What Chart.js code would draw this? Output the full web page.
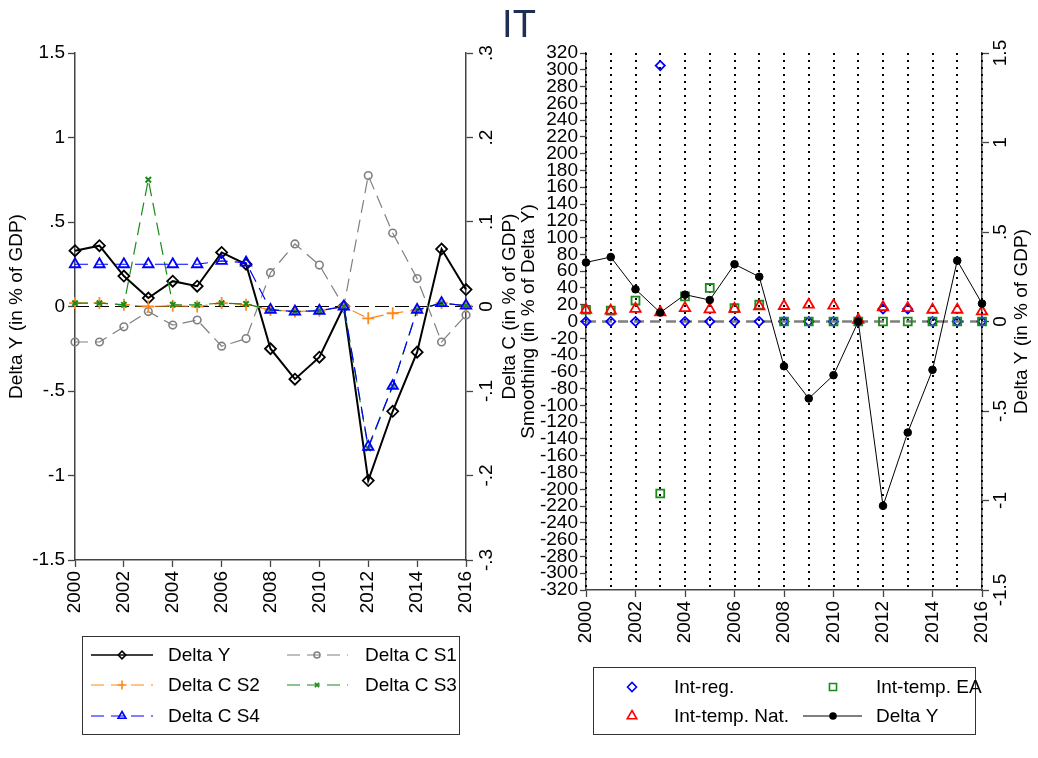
<!DOCTYPE html>
<html>
<head>
<meta charset="utf-8">
<script src="https://cdn.jsdelivr.net/npm/chart.js@4.4.0/dist/chart.umd.min.js"></script>
<style>
  body { margin: 0; background: #fff; }
  #wrap { position: relative; width: 1038px; height: 758px; }
  #title { position: absolute; left: 0; top: 5px; width: 1038px; text-align: center;
           font: 38px/38px "Liberation Sans", Arial, sans-serif; color: #1e2f52; }
  canvas { position: absolute; top: 0; }
  #left { left: 0; }
  #right { left: 519px; }
</style>
</head>
<body>
<div id="wrap">
  <canvas id="left" width="519" height="758"></canvas>
  <canvas id="right" width="519" height="758"></canvas>
  <div id="title">IT</div>
</div>
<script>
const FONT = '"Liberation Sans", Arial, sans-serif';

const years = [2000, 2001, 2002, 2003, 2004, 2005, 2006, 2007, 2008,
               2009, 2010, 2011, 2012, 2013, 2014, 2015, 2016];

// output change, % of GDP
const deltaY = [0.33, 0.36, 0.18, 0.05, 0.15, 0.12, 0.32, 0.25, -0.25,
                -0.43, -0.30, 0.0, -1.03, -0.62, -0.27, 0.34, 0.10];

// consumption change by scenario, % of GDP (right axis of left panel)
const deltaCS1 = [-0.042, -0.042, -0.024, -0.006, -0.022, -0.016, -0.047, -0.038, 0.040,
                  0.074, 0.049, 0.0, 0.155, 0.087, 0.033, -0.042, -0.010];
const deltaCS2 = [0.004, 0.004, 0.002, 0.0, 0.001, 0.0, 0.004, 0.002, -0.004,
                  -0.006, -0.005, 0.0, -0.014, -0.008, -0.004, 0.004, 0.001];
const deltaCS3 = [0.004, 0.004, 0.002, 0.150, 0.002, 0.002, 0.004, 0.003, -0.004,
                  -0.006, -0.005, 0.0, -0.168, -0.094, -0.004, 0.004, 0.001];
const deltaCS4 = [0.050, 0.050, 0.050, 0.050, 0.050, 0.050, 0.054, 0.052, -0.004,
                  -0.006, -0.005, 0.0, -0.166, -0.094, -0.004, 0.004, 0.001];

// smoothing channels, % of Delta Y
const intReg = [0, 0, 0, 305, 0, 0, 0, 0, 0,
                0, 0, 0, 15, 15, 0, 0, 0];
const intTempEA = [14, 13, 25, -205, 30, 40, 16, 20, 0,
                   0, 0, 0, 0, 0, 0, 0, 0];
const intTempNat = [14, 13, 15, 11, 16, 14.5, 15, 18, 18.5,
                    20, 19, 2, 17, 16, 14, 14, 12];

// tick values
const xTicks = [2000, 2002, 2004, 2006, 2008, 2010, 2012, 2014, 2016];
const gdpTicks = [-1.5, -1, -0.5, 0, 0.5, 1, 1.5];
const deltaCTicks = [-0.3, -0.2, -0.1, 0, 0.1, 0.2, 0.3];
const smoothTicks = [-320, -300, -280, -260, -240, -220, -200, -180, -160, -140, -120,
                     -100, -80, -60, -40, -20, 0, 20, 40, 60, 80, 100, 120, 140, 160,
                     180, 200, 220, 240, 260, 280, 300, 320];

function stata(v) {
  const s = String(Math.round(v * 1000) / 1000);
  return s.replace(/^0\./, '.').replace(/^-0\./, '-.');
}

function pts(ys) {
  return years.map((x, i) => ({ x: x, y: ys[i] }));
}

function setTicks(arr) {
  return function (scale) { scale.ticks = arr.map(v => ({ value: v })); };
}

function xScale(height) {
  return {
    type: 'linear', position: 'bottom', min: 2000, max: 2016,
    afterBuildTicks: setTicks(xTicks),
    afterFit: s => { s.height = height; },
    ticks: { autoSkip: false, minRotation: 90, maxRotation: 90, padding: 4, color: '#000',
             font: { size: 19, family: FONT }, callback: v => String(v) },
    grid: { drawOnChartArea: false, tickLength: 7, tickColor: '#444', tickWidth: 1.3 },
    border: { color: '#444', width: 1.5 }
  };
}

function hiddenRight(min, max, ticks, width) {
  return {
    type: 'linear', position: 'right', min: min, max: max,
    afterBuildTicks: setTicks(ticks),
    afterFit: s => { s.width = width; },
    ticks: { display: false },
    grid: { drawOnChartArea: false, tickLength: 7, tickColor: '#444', tickWidth: 1.3 },
    border: { color: '#444', width: 1.5 }
  };
}

// rotated labels + title for the right-hand axis
function rightAxis(axisId, labelOff, title, titleOff) {
  return {
    id: 'rightAxis',
    afterDraw(chart) {
      const s = chart.scales[axisId];
      const ctx = chart.ctx;
      ctx.save();
      ctx.fillStyle = '#000';
      ctx.font = '19px ' + FONT;
      ctx.textAlign = 'center';
      ctx.textBaseline = 'middle';
      s.ticks.forEach(t => {
        ctx.save();
        ctx.translate(s.left + labelOff, s.getPixelForValue(t.value));
        ctx.rotate(-Math.PI / 2);
        ctx.fillText(stata(t.value), 0, 0);
        ctx.restore();
      });
      const a = chart.chartArea;
      ctx.translate(s.left + titleOff, (a.top + a.bottom) / 2);
      ctx.rotate(-Math.PI / 2);
      ctx.fillText(title, 0, 0);
      ctx.restore();
    }
  };
}

// boxed legend, entries: [datasetIndex, row y, marker x, label x, line x1, line x2, marker radius]
function boxLegend(box, entries) {
  return {
    id: 'boxLegend',
    afterDraw(chart) {
      const ctx = chart.ctx;
      ctx.save();
      ctx.strokeStyle = '#333';
      ctx.lineWidth = 1;
      ctx.strokeRect(box[0], box[1], box[2], box[3]);
      entries.forEach(e => {
        const ds = chart.data.datasets[e[0]];
        if (e[4] !== null) {
          ctx.beginPath();
          ctx.setLineDash(ds.borderDash || []);
          ctx.strokeStyle = ds.borderColor;
          ctx.lineWidth = ds.legendLine || ds.borderWidth;
          ctx.moveTo(e[4], e[1]);
          ctx.lineTo(e[5], e[1]);
          ctx.stroke();
        }
        ctx.setLineDash([]);
        ctx.strokeStyle = ds.pointBorderColor;
        ctx.fillStyle = ds.pointBackgroundColor;
        ctx.lineWidth = 1.6;
        Chart.helpers.drawPoint(ctx, { pointStyle: ds.pointStyle, rotation: 0, radius: e[6], borderWidth: 1.6 }, e[2], e[1]);
        ctx.fillStyle = '#000';
        ctx.font = '19px ' + FONT;
        ctx.textAlign = 'left';
        ctx.textBaseline = 'middle';
        ctx.fillText(ds.label, e[3], e[1] + 1);
      });
      ctx.restore();
    }
  };
}

const NONE = 'rgba(0,0,0,0)';
const BLUE = '#0000ff', GREEN = '#1a8a1a', ORANGE = '#ff8a1a', GRAY = '#808080', RED = '#ff0000';

// ---------------- left panel ----------------
const zeroLineLeft = {
  id: 'zeroLeft',
  beforeDatasetsDraw(chart) {
    const ctx = chart.ctx, a = chart.chartArea;
    const y = chart.scales.y.getPixelForValue(0);
    ctx.save();
    ctx.strokeStyle = '#000';
    ctx.lineWidth = 1.2;
    ctx.setLineDash([14, 6]);
    ctx.beginPath();
    ctx.moveTo(a.left, y);
    ctx.lineTo(a.right, y);
    ctx.stroke();
    ctx.restore();
  }
};

new Chart(document.getElementById('left'), {
  type: 'line',
  data: {
    datasets: [
      { label: 'Delta Y', data: pts(deltaY), yAxisID: 'y', order: 5,
        borderColor: '#000', borderWidth: 2, pointStyle: 'rectRot', pointRadius: 5.5,
        pointBorderWidth: 1.8, pointBorderColor: '#000', pointBackgroundColor: NONE, legendLine: 1.5 },
      { label: 'Delta C S1', data: pts(deltaCS1), yAxisID: 'y2', order: 4,
        borderColor: GRAY, borderWidth: 1.2, borderDash: [13, 7], pointStyle: 'circle', pointRadius: 3.8,
        pointBorderWidth: 1.6, pointBorderColor: GRAY, pointBackgroundColor: NONE },
      { label: 'Delta C S2', data: pts(deltaCS2), yAxisID: 'y2', order: 3,
        borderColor: ORANGE, borderWidth: 1.2, borderDash: [13, 7], pointStyle: 'cross', pointRadius: 6,
        pointBorderWidth: 1.8, pointBorderColor: ORANGE, pointBackgroundColor: NONE },
      { label: 'Delta C S3', data: pts(deltaCS3), yAxisID: 'y2', order: 2,
        borderColor: GREEN, borderWidth: 1.2, borderDash: [13, 7], pointStyle: 'crossRot', pointRadius: 3.8,
        pointBorderWidth: 2, pointBorderColor: GREEN, pointBackgroundColor: NONE },
      { label: 'Delta C S4', data: pts(deltaCS4), yAxisID: 'y2', order: 1,
        borderColor: BLUE, borderWidth: 1.2, borderDash: [13, 7], pointStyle: 'triangle', pointRadius: 6,
        pointBorderWidth: 1.8, pointBorderColor: BLUE, pointBackgroundColor: NONE }
    ]
  },
  options: {
    responsive: false, animation: false, events: [],
    clip: false,
    layout: { padding: { left: 0, right: 0, top: 53, bottom: 128 } },
    elements: { line: { tension: 0, fill: false } },
    plugins: { legend: { display: false }, tooltip: { enabled: false } },
    scales: {
      x: xScale(70),
      y: {
        type: 'linear', position: 'left', min: -1.5, max: 1.5,
        afterBuildTicks: setTicks(gdpTicks),
        afterFit: s => { s.width = 75; },
        title: { display: true, text: 'Delta Y (in % of GDP)', color: '#000',
                 font: { size: 19, family: FONT }, padding: { top: 5, bottom: 0 } },
        ticks: { autoSkip: false, padding: 3, color: '#000', font: { size: 19, family: FONT }, callback: v => stata(v) },
        grid: { drawOnChartArea: false, tickLength: 7, tickColor: '#444', tickWidth: 1.3 },
        border: { color: '#444', width: 1.5 }
      },
      y2: hiddenRight(-0.3, 0.3, deltaCTicks, 53)
    }
  },
  plugins: [
    zeroLineLeft,
    rightAxis('y2', 21, 'Delta C (in % of GDP)', 44),
    boxLegend([82.5, 636.5, 377, 98], [
      [0, 655, 122, 168, 91, 153, 3.8],
      [1, 655, 317, 365, 287, 348, 3],
      [2, 685, 122, 168, 91, 153, 4.5],
      [3, 685, 317, 365, 287, 348, 3],
      [4, 716, 122, 168, 91, 153, 4.5]
    ])
  ]
});

// ---------------- right panel ----------------
const guidesRight = {
  id: 'guidesRight',
  beforeDatasetsDraw(chart) {
    const ctx = chart.ctx, a = chart.chartArea;
    const xs = chart.scales.x;
    ctx.save();
    ctx.strokeStyle = '#000';
    ctx.lineWidth = 2;
    ctx.setLineDash([2, 5]);
    years.forEach(yr => {
      const x = Math.round(xs.getPixelForValue(yr));
      ctx.beginPath();
      ctx.moveTo(x, a.top);
      ctx.lineTo(x, a.bottom);
      ctx.stroke();
    });
    const y = chart.scales.y.getPixelForValue(0);
    ctx.strokeStyle = '#7f7f7f';
    ctx.lineWidth = 2.5;
    ctx.setLineDash([10, 6]);
    ctx.beginPath();
    ctx.moveTo(a.left, y);
    ctx.lineTo(a.right, y);
    ctx.stroke();
    ctx.restore();
  }
};

new Chart(document.getElementById('right'), {
  type: 'line',
  data: {
    datasets: [
      { label: 'Int-reg.', data: pts(intReg), yAxisID: 'y', order: 4, showLine: false,
        borderColor: BLUE, pointStyle: 'rectRot', pointRadius: 4.6,
        pointBorderWidth: 1.8, pointBorderColor: BLUE, pointBackgroundColor: NONE },
      { label: 'Int-temp. EA', data: pts(intTempEA), yAxisID: 'y', order: 3, showLine: false,
        borderColor: GREEN, pointStyle: 'rect', pointRadius: 5.6,
        pointBorderWidth: 1.8, pointBorderColor: GREEN, pointBackgroundColor: NONE },
      { label: 'Int-temp. Nat.', data: pts(intTempNat), yAxisID: 'y', order: 2, showLine: false,
        borderColor: RED, pointStyle: 'triangle', pointRadius: 6,
        pointBorderWidth: 1.8, pointBorderColor: RED, pointBackgroundColor: NONE },
      { label: 'Delta Y', data: pts(deltaY), yAxisID: 'y2', order: 1,
        borderColor: '#000', borderWidth: 1, pointStyle: 'circle', pointRadius: 3.8,
        pointBorderWidth: 1, pointBorderColor: '#000', pointBackgroundColor: '#000' }
    ]
  },
  options: {
    responsive: false, animation: false, events: [],
    clip: false,
    layout: { padding: { left: 0, right: 0, top: 53, bottom: 98 } },
    elements: { line: { tension: 0, fill: false } },
    plugins: { legend: { display: false }, tooltip: { enabled: false } },
    scales: {
      x: xScale(70),
      y: {
        type: 'linear', position: 'left', min: -320, max: 320,
        afterBuildTicks: setTicks(smoothTicks),
        afterFit: s => { s.width = 67; },
        title: { display: true, text: 'Smoothing (in % of Delta Y)', color: '#000',
                 font: { size: 19, family: FONT, lineHeight: 1 }, padding: { top: 0, bottom: 0 } },
        ticks: { autoSkip: false, padding: 2, color: '#000', font: { size: 19, family: FONT, lineHeight: 1 }, callback: v => stata(v) },
        grid: { drawOnChartArea: false, tickLength: 6, tickColor: '#444', tickWidth: 1.3 },
        border: { color: '#444', width: 1.5 }
      },
      y2: hiddenRight(-1.5, 1.5, gdpTicks, 56)
    }
  },
  plugins: [
    guidesRight,
    rightAxis('y2', 19, 'Delta Y (in % of GDP)', 40),
    boxLegend([74.5, 667.5, 382, 67], [
      [0, 687, 113, 155, null, null, 4.5],
      [1, 687, 314, 357, null, null, 5],
      [2, 716, 113, 155, null, null, 5.5],
      [3, 716, 314, 357, 284, 343, 3]
    ])
  ]
});
</script>
</body>
</html>
